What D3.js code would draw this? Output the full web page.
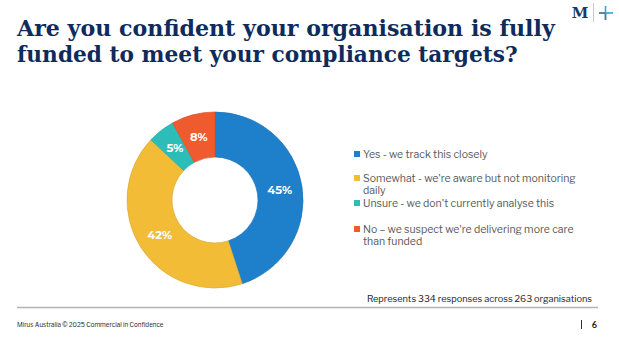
<!DOCTYPE html>
<html>
<head>
<meta charset="utf-8">
<script src="https://cdn.jsdelivr.net/npm/d3@7"></script>
<style>
  html, body { margin: 0; padding: 0; background: #fff; }
  svg { display: block; }
</style>
</head>
<body>
<svg id="chart" width="619" height="339"></svg>
<script>
const titleLines = ["Are you confident your organisation is fully", "funded to meet your compliance targets?"];
const categories = [
  "Yes - we track this closely",
  "Somewhat - we're aware but not monitoring daily",
  "Unsure - we don't currently analyse this",
  "No \u2013 we suspect we're delivering more care than funded"
];
const values = [45, 42, 5, 8];
const colors = ["#1E80CA", "#F3BC37", "#2CBDB8", "#EF5B2F"];
const note = "Represents 334 responses across 263 organisations";
const footerText = "Mirus Australia \u00A9 2025  Commercial in Confidence";
const pageNumber = "6";

const svg = d3.select("#chart");

// Title (horizontally scaled to match the reference's line widths)
const titleWidths = [538, 501];
const titleG = svg.append("g");
titleLines.forEach((t, i) => {
  const g = titleG.append("g");
  const el = g.append("text")
    .attr("x", 0).attr("y", 0)
    .attr("font-family", "'DejaVu Serif', 'Liberation Serif', serif")
    .attr("font-weight", 700)
    .attr("font-size", 22.5)
    .attr("fill", "#0E2B5C")
    .text(t);
  const w = el.node().getComputedTextLength();
  g.attr("transform", `translate(17,${36 + i * 26}) scale(${titleWidths[i] / w},1)`);
});

// Logo
const logo = svg.append("g");
logo.append("text").attr("x", 580).attr("y", 18).attr("text-anchor", "middle")
  .attr("font-family", "'DejaVu Serif', serif").attr("font-weight", 700)
  .attr("font-size", 15).attr("fill", "#1B3A66").text("M");
logo.append("line").attr("x1", 593.5).attr("x2", 593.5).attr("y1", 3).attr("y2", 22)
  .attr("stroke", "#c8c8c8").attr("stroke-width", 1);
logo.append("line").attr("x1", 599).attr("x2", 613).attr("y1", 13).attr("y2", 13)
  .attr("stroke", "#2AA7E0").attr("stroke-width", 1.6);
logo.append("line").attr("x1", 605.5).attr("x2", 605.5).attr("y1", 6).attr("y2", 20)
  .attr("stroke", "#2AA7E0").attr("stroke-width", 1.6);
logo.append("line").attr("x1", 599).attr("x2", 605).attr("y1", 13).attr("y2", 13)
  .attr("stroke", "#6d7680").attr("stroke-width", 1.6);
logo.append("line").attr("x1", 605.5).attr("x2", 605.5).attr("y1", 13).attr("y2", 20)
  .attr("stroke", "#6d7680").attr("stroke-width", 1.6);

// Donut
const cx = 215, cy = 200, rOuter = 88, rInner = 43;
const pie = d3.pie().sort(null).value(d => d).startAngle(0).endAngle(2 * Math.PI);
const arc = d3.arc().innerRadius(rInner).outerRadius(rOuter);
const arcs = pie(values);
const donut = svg.append("g").attr("transform", `translate(${cx},${cy})`);
donut.selectAll("path").data(arcs).enter().append("path")
  .attr("d", arc)
  .attr("fill", (d, i) => colors[i])
  .attr("stroke", (d, i) => d3.color(colors[i]).darker(0.3))
  .attr("stroke-width", 0.7);
donut.selectAll("text").data(arcs).enter().append("text")
  .attr("transform", d => `translate(${arc.centroid(d)})`)
  .attr("text-anchor", "middle")
  .attr("dy", "0.36em")
  .attr("font-family", "Montserrat, 'Open Sans', sans-serif")
  .attr("font-weight", 700)
  .attr("font-size", 11.5)
  .attr("fill", "#fff")
  .text(d => d.data + "%");

// Legend
const legendX = 354, maxW = 218;
const rowY = [154, 178, 203, 229];
const legend = svg.append("g");
categories.forEach((c, i) => {
  legend.append("rect").attr("x", legendX).attr("y", rowY[i] - 3).attr("width", 6).attr("height", 6)
    .attr("fill", colors[i]);
  const t = legend.append("text")
    .attr("x", legendX + 9).attr("y", rowY[i])
    .attr("dy", "0.35em")
    .attr("font-family", "'Libre Franklin', Lato, 'Open Sans', sans-serif")
    .attr("font-size", 10.5)
    .attr("fill", "#595959");
  const words = c.split(" ");
  let line = [], tspan = t.append("tspan").attr("x", legendX + 9);
  words.forEach(w => {
    line.push(w);
    tspan.text(line.join(" "));
    if (tspan.node().getComputedTextLength() > maxW && line.length > 1) {
      line.pop();
      tspan.text(line.join(" "));
      line = [w];
      tspan = t.append("tspan").attr("x", legendX + 9).attr("dy", "1.15em").text(w);
    }
  });
});

// Note and rule
svg.append("text").attr("x", 592).attr("y", 302).attr("text-anchor", "end")
  .attr("font-family", "'Libre Franklin', Lato, 'Open Sans', sans-serif")
  .attr("font-size", 9.2).attr("fill", "#222").text(note);
svg.append("line").attr("x1", 17).attr("x2", 598).attr("y1", 307.5).attr("y2", 307.5)
  .attr("stroke", "#b3b3b3").attr("stroke-width", 1.5);

// Footer
svg.append("text").attr("x", 17).attr("y", 327)
  .attr("font-family", "'Libre Franklin', Lato, 'Open Sans', sans-serif")
  .attr("font-size", 6.3).attr("fill", "#222").text(footerText);
svg.append("line").attr("x1", 581.5).attr("x2", 581.5).attr("y1", 320).attr("y2", 329)
  .attr("stroke", "#333").attr("stroke-width", 1);
svg.append("text").attr("x", 597).attr("y", 328).attr("text-anchor", "end")
  .attr("font-family", "Lato, 'Open Sans', sans-serif").attr("font-weight", 700)
  .attr("font-size", 9).attr("fill", "#222").text(pageNumber);
</script>
</body>
</html>
